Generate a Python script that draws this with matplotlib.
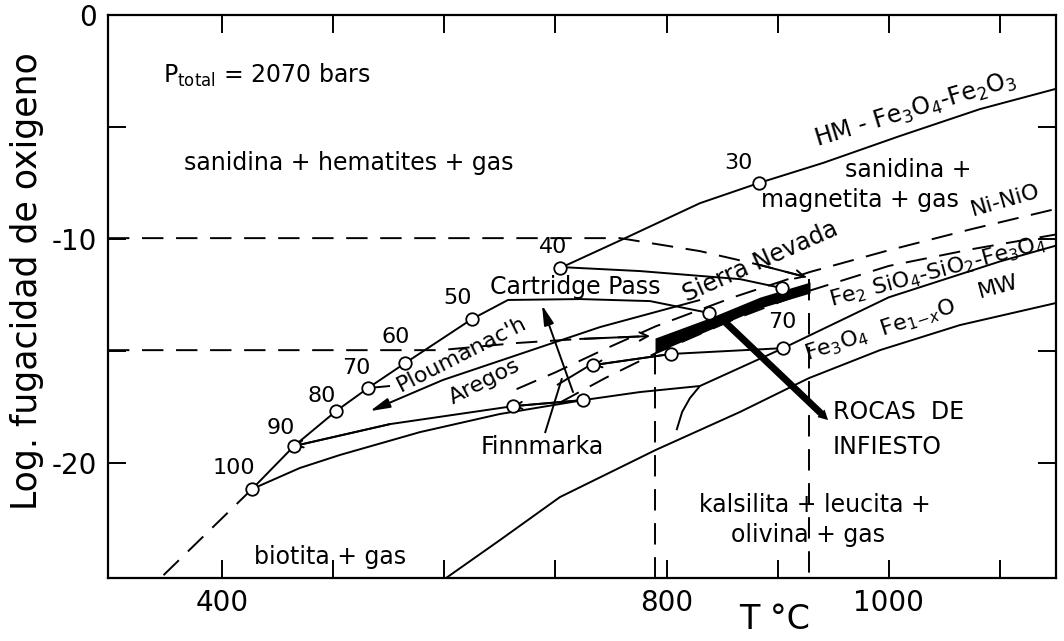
import matplotlib
matplotlib.use('Agg')
import matplotlib.pyplot as plt

plt.rcParams['font.family'] = ['DejaVu Sans']

# ---------------- data (T in °C, log fO2) ----------------
hm_T = [704, 761, 830, 883, 941, 1010, 1082, 1150]
hm_L = [-11.3, -10.0, -8.4, -7.5, -6.6, -5.4, -4.2, -3.3]

nno_T = [665, 700, 745, 790, 860, 929, 1000, 1075, 1150]
nno_L = [-16.7, -15.95, -14.9, -13.9, -12.6, -11.47, -10.5, -9.55, -8.66]

fmq_T = [704, 745, 790, 860, 929, 1000, 1075, 1150]
fmq_L = [-17.3, -16.2, -15.1, -13.6, -12.3, -11.2, -10.45, -9.8]

mw_T = [830, 905, 1000, 1100, 1150]
mw_L = [-16.56, -14.87, -12.6, -11.0, -10.3]

lower_T = [601.6, 650, 704, 790, 866, 928, 992, 1064, 1150]
lower_L = [-25.13, -23.44, -21.52, -19.42, -17.72, -16.21, -14.96, -13.84, -12.86]

iso100_T = [427, 470, 506, 578, 650, 725, 776, 830]
iso100_L = [-21.16, -20.22, -19.64, -18.62, -17.81, -17.19, -16.83, -16.56]

arc_T = [830, 821, 814, 809]
arc_L = [-16.56, -17.10, -17.72, -18.53]

# composition points (annite %)
comp_labels = ['100', '90', '80', '70', '60', '50', '40', '30']
comp_T = [427.0, 464.8, 502.6, 531.4, 564.7, 624.9, 704.1, 883.2]
comp_L = [-21.16, -19.24, -17.68, -16.65, -15.54, -13.57, -11.29, -7.50]
comp_lab_T = [410.8, 453.1, 490.0, 520.6, 556.6, 612.3, 697.8, 864.3]
comp_lab_L = [-20.22, -18.44, -17.01, -15.76, -14.38, -12.63, -10.36, -6.61]

ext_T = [427.0, 335.0]
ext_L = [-21.16, -25.6]

iso70_T = [531.4, 551.2]
iso70_L = [-16.65, -16.56]

# rock paths
cart_T = [624.9, 657.3, 722.1, 785.1, 838.2]
cart_L = [-13.57, -12.72, -12.68, -12.77, -13.30]

sn_T = [704.1, 776.1, 866.1, 903.9]
sn_L = [-11.25, -11.43, -11.79, -12.19]

dash10_T = [297.4, 758.1, 830.1, 884.1, 925.5]
dash10_L = [-9.96, -9.96, -10.54, -11.16, -11.70]

dash15_T = [297.4, 596.2, 665.4, 722.1, 785.1]
dash15_L = [-14.96, -14.96, -14.64, -14.46, -14.33]

plou_T = [830.1, 740.1, 598.8, 533.2]
plou_L = [-12.72, -13.93, -16.29, -17.68]

fin1_T = [724.8, 661.8]
fin1_L = [-17.19, -17.46]
fin2_T = [661.8, 551.2, 464.8]
fin2_L = [-17.46, -18.26, -19.24]

are_T = [804.0, 733.8]
are_L = [-15.13, -15.63]

cdg_T = [804.0, 904.8]
cdg_L = [-15.13, -14.87]

other_T = [661.8, 724.8, 733.8, 804.0, 838.2, 903.9, 904.8]
other_L = [-17.46, -17.19, -15.63, -15.13, -13.30, -12.19, -14.87]

up_T = [715.8, 687.9]
up_L = [-16.83, -12.95]
cross_T = [701.4, 731.1]
cross_L = [-16.52, -15.63]
finptr_T = [690.6, 705.9]
finptr_L = [-18.66, -16.21]

band_T = [789.6, 838.2, 884.1, 929.1]
band_top = [-14.42, -13.53, -12.59, -11.92]
band_bot = [-15.09, -14.06, -13.08, -12.41]

infiesto_T = [850.8, 945.3]
infiesto_L = [-13.62, -18.08]

vline_T = [789.6, 928.2]
vline_top = [-15.09, -11.8]

# ---------------- figure ----------------
fig = plt.figure(figsize=(10.64, 6.41), dpi=100)
ax = fig.add_axes([108/1064, 1-578/641, (1056-108)/1064, (578-15)/641])
ax.set_xlim(297.4, 1150.4)
ax.set_ylim(-25.13, 0)

LW = 1.4
DASH = (0, (11, 6.5))
K = 'black'

def line(T, L, ls='-', lw=LW, z=2):
    ax.plot(T, L, color=K, lw=lw, ls=ls, zorder=z, solid_capstyle='butt')

def arrow_end(T, L, style='-|>', hw=0.25, hl=0.6):
    ax.annotate('', xy=(T[-1], L[-1]), xytext=(T[-2], L[-2]),
                arrowprops=dict(arrowstyle=f'{style},head_width={hw},head_length={hl}',
                                color=K, lw=LW, shrinkA=0, shrinkB=0), zorder=3)

line(hm_T, hm_L)
line(nno_T, nno_L, DASH)
line(fmq_T, fmq_L, DASH)
line(mw_T, mw_L)
line(lower_T, lower_L)
line(iso100_T, iso100_L)
line(arc_T, arc_L)
line(comp_T[:6], comp_L[:6])
line(ext_T, ext_L, DASH)
line(iso70_T, iso70_L)
line(cart_T, cart_L)
line(sn_T, sn_L)
line(dash10_T, dash10_L, DASH)
arrow_end(dash10_T[-2:], dash10_L[-2:], style='->', hw=0.3, hl=0.6)
line(dash15_T, dash15_L, DASH)
arrow_end(dash15_T[-2:], dash15_L[-2:], style='->', hw=0.3, hl=0.6)
line(plou_T[:-1], plou_L[:-1])
arrow_end(plou_T[-2:], plou_L[-2:], style='-|>', hw=0.3, hl=1.2)
line(fin1_T, fin1_L)
arrow_end(fin1_T, fin1_L, style='->', hw=0.25, hl=0.5)
line(fin2_T, fin2_L)
arrow_end(fin2_T[-2:], fin2_L[-2:], style='->', hw=0.25, hl=0.5)
line(are_T, are_L)
arrow_end(are_T, are_L, style='->', hw=0.25, hl=0.5)
line(cdg_T, cdg_L)
arrow_end(up_T, up_L, style='-|>', hw=0.3, hl=1.2)
line(cross_T, cross_L)
line(finptr_T, finptr_L)

for t, top in zip(vline_T, vline_top):
    line([t, t], [top, -25.13], DASH)

ax.fill_between(band_T, band_bot, band_top, color=K, lw=0, zorder=4)
ax.annotate('', xy=(infiesto_T[1], infiesto_L[1]), xytext=(infiesto_T[0], infiesto_L[0]),
            arrowprops=dict(arrowstyle='simple,head_width=0.75,head_length=0.7,tail_width=0.5',
                            color=K, lw=0, shrinkA=0, shrinkB=0), zorder=4)

# circles
ax.plot(comp_T, comp_L, 'o', ms=9, mfc='white', mec=K, mew=1.3, zorder=6)
ax.plot(other_T, other_L, 'o', ms=9, mfc='white', mec=K, mew=1.3, zorder=6)

FS = 16
for s, t, l in zip(comp_labels, comp_lab_T, comp_lab_L):
    ax.text(t, l, s, fontsize=FS, ha='center', va='center')

ax.text(903.9, -13.71, '70', fontsize=FS, ha='center', va='center')

# region and buffer labels
ax.text(346.9, -2.68, r'P$_{\mathrm{total}}$ = 2070 bars', fontsize=17, ha='left', va='center')
ax.text(514.3, -6.61, 'sanidina + hematites + gas', fontsize=17, ha='center', va='center')
ax.text(1017.2, -6.92, 'sanidina +', fontsize=17, ha='center', va='center')
ax.text(974.0, -8.26, 'magnetita + gas', fontsize=17, ha='center', va='center')
ax.text(1023.5, -4.24, r'HM - Fe$_3$O$_4$-Fe$_2$O$_3$', fontsize=17, ha='center', va='center', rotation=17)
ax.text(1104.5, -8.26, 'Ni-NiO', fontsize=16, ha='center', va='center', rotation=16)
ax.text(1044.2, -11.47, r'Fe$_2$ SiO$_4$-SiO$_2$-Fe$_3$O$_4$', fontsize=16, ha='center', va='center', rotation=15)
ax.text(1098.2, -12.14, 'MW', fontsize=16, ha='center', va='center', rotation=15)
ax.text(992.0, -14.06, r'Fe$_3$O$_4$  Fe$_{1\mathrm{-}x}$O', fontsize=16, ha='center', va='center', rotation=18)
ax.text(949.8, -17.72, 'ROCAS  DE', fontsize=17, ha='left', va='center')
ax.text(949.8, -19.29, 'INFIESTO', fontsize=17, ha='left', va='center')
ax.text(933.6, -21.88, 'kalsilita + leucita +', fontsize=17, ha='center', va='center')
ax.text(927.3, -23.21, 'olivina + gas', fontsize=17, ha='center', va='center')
ax.text(497.2, -24.2, 'biotita + gas', fontsize=17, ha='center', va='center')
ax.text(717.6, -12.14, 'Cartridge Pass', fontsize=17, ha='center', va='center')
ax.text(884.1, -11.03, 'Sierra Nevada', fontsize=17, ha='center', va='center', rotation=24)
ax.text(615.9, -15.13, "Ploumanac'h", fontsize=16, ha='center', va='center', rotation=27)
ax.text(636.6, -16.38, 'Aregos', fontsize=16, ha='center', va='center', rotation=27)
ax.text(687.9, -19.29, 'Finnmarka', fontsize=17, ha='center', va='center')

# axes styling
for sp in ax.spines.values():
    sp.set_linewidth(1.6)
ax.set_xticks([400, 500, 600, 700, 800, 900, 1000, 1100])
ax.set_xticklabels(['400', '', '', '', '800', '', '1000', ''])
ax.set_yticks([0, -5, -10, -15, -20])
ax.set_yticklabels(['0', '', '-10', '', '-20'])
ax.tick_params(direction='in', length=13, width=1.4, labelsize=20, pad=8,
               top=True, right=True)
fig.text(27/1064, 0.5616, 'Log. fugacidad de oxigeno', rotation=90, fontsize=25,
         ha='center', va='center')
fig.text(775/1064, 0.0328, 'T °C', fontsize=24, ha='center', va='center')

fig.savefig('out.png', dpi=100)
